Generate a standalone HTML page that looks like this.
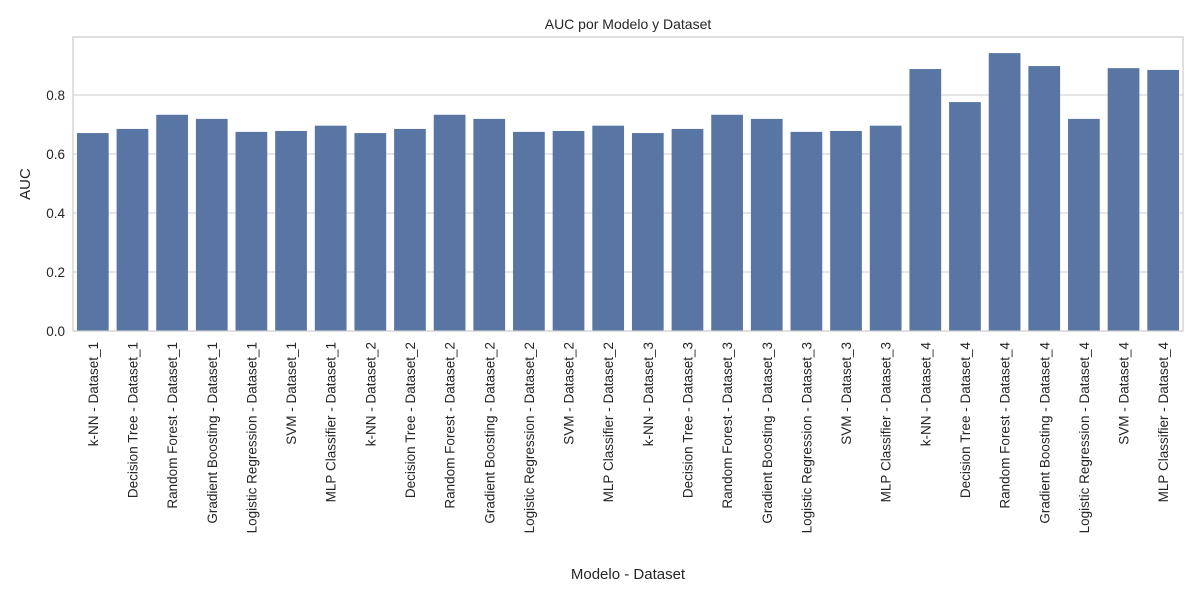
<!DOCTYPE html>
<html><head><meta charset="utf-8"><style>
body{margin:0;background:#fff;}
svg text{font-family:"Liberation Sans","DejaVu Sans",sans-serif;fill:#262626;}
</style></head><body>
<svg id="chart" width="1200" height="600" xmlns="http://www.w3.org/2000/svg">
<rect x="0" y="0" width="1200" height="600" fill="#fff"/>
<text x="628" y="29" text-anchor="middle" font-size="14">AUC por Modelo y Dataset</text>
<text x="30" y="184" text-anchor="middle" font-size="15" transform="rotate(-90 30 184)">AUC</text>
<text x="628" y="579" text-anchor="middle" font-size="15">Modelo - Dataset</text>
<g id="grid"></g><g id="bars"></g><g id="ticks"></g>
<rect x="73" y="37" width="1110" height="294" fill="none" stroke="#cccccc" stroke-width="1.2"/>
</svg>
<script>
const models=["k-NN","Decision Tree","Random Forest","Gradient Boosting","Logistic Regression","SVM","MLP Classifier"];
const datasets=["Dataset_1","Dataset_2","Dataset_3","Dataset_4"];
const auc1=[0.671,0.685,0.733,0.719,0.675,0.678,0.696];
const auc2=[0.671,0.685,0.733,0.719,0.675,0.678,0.696];
const auc3=[0.671,0.685,0.733,0.719,0.675,0.678,0.696];
const auc4=[0.888,0.776,0.942,0.898,0.719,0.891,0.885];
const yTicks=[0,0.2,0.4,0.6,0.8];
const yTickLabels=["0.0","0.2","0.4","0.6","0.8"];
const NS="http://www.w3.org/2000/svg";
const x0=73,x1=1183,yBase=331,pxPerUnit=295;
const cats=[],vals=[];
const all=[auc1,auc2,auc3,auc4];
datasets.forEach((d,i)=>models.forEach((m,j)=>{cats.push(m+" - "+d);vals.push(all[i][j]);}));
const step=(x1-x0)/cats.length;
const xs=i=>x0+step*(i+0.5);
const ys=v=>yBase-v*pxPerUnit;
const grid=document.getElementById('grid'),bars=document.getElementById('bars'),ticks=document.getElementById('ticks');
yTicks.forEach((t,i)=>{
 const l=document.createElementNS(NS,'line');
 
 
 l.setAttribute('x1',x0);l.setAttribute('x2',x1);l.setAttribute('y1',ys(t));l.setAttribute('y2',ys(t));
 l.setAttribute('stroke','#cccccc');l.setAttribute('stroke-width','1');
 grid.appendChild(l);
 const tx=document.createElementNS(NS,'text');
 
 
 tx.setAttribute('x',x0-8);tx.setAttribute('y',ys(t)+5);tx.setAttribute('text-anchor','end');tx.setAttribute('font-size','13.5');
 tx.textContent=yTickLabels[i];ticks.appendChild(tx);
});
cats.forEach((c,i)=>{
 const w=step*0.8,v=vals[i];
 const r=document.createElementNS(NS,'rect');
 
 
 r.setAttribute('x',xs(i)-w/2);r.setAttribute('width',w);r.setAttribute('y',ys(v));r.setAttribute('height',yBase-ys(v));
 r.setAttribute('fill','#5875a4');
 bars.appendChild(r);
 const tx=document.createElementNS(NS,'text');
 
 
 const X=xs(i)+5,Y=yBase+11;
 tx.setAttribute('x',X);tx.setAttribute('y',Y);tx.setAttribute('text-anchor','end');tx.setAttribute('font-size','13.5');
 tx.setAttribute('transform','rotate(-90 '+X+' '+Y+')');
 tx.textContent=c;ticks.appendChild(tx);
});
</script>
</body></html>
